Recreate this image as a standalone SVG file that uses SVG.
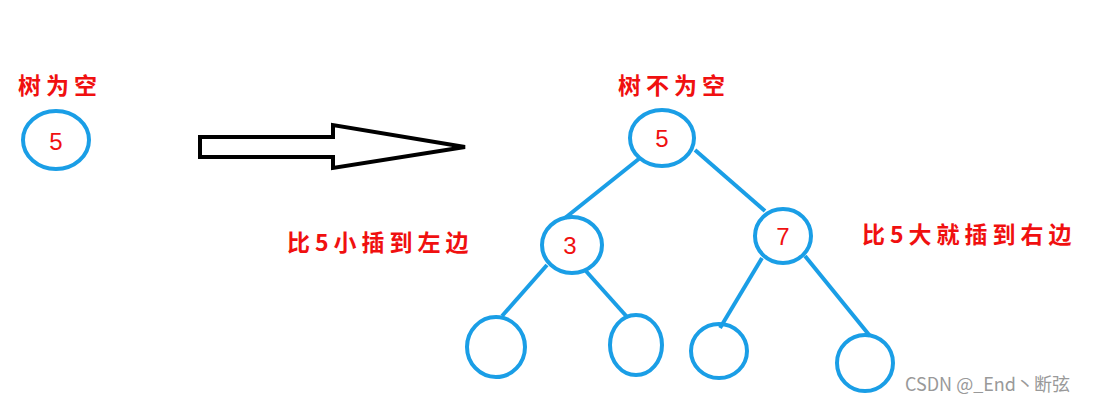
<svg xmlns="http://www.w3.org/2000/svg" width="1094" height="403" viewBox="0 0 1094 403">
<style>
.n{fill:none;stroke:#1a9ee6;stroke-width:4}
.t{fill:#f01010;font-family:"Noto Sans CJK SC",sans-serif;font-weight:bold;font-size:23px;letter-spacing:5px}
.d{fill:#f01010;font-family:"Liberation Sans",sans-serif;font-size:24px;text-anchor:middle}
.e{stroke:#1a9ee6;stroke-width:4}
</style>
<rect width="1094" height="403" fill="#fff"/>
<text class="t" x="18" y="94">树为空</text>
<text class="t" x="618" y="94">树不为空</text>
<text class="t" x="287" y="251">比5小插到左边</text>
<text class="t" x="862" y="243">比5大就插到右边</text>
<g id="n0"><ellipse class="n" cx="56" cy="140" rx="33" ry="29"/><text class="d" x="56" y="150">5</text></g>
<g id="arrow"><polygon points="200,137 333,137 333,125 465,147 333,168 333,157 200,157" fill="#fff" stroke="#000" stroke-width="4"/></g>
<g id="connectors">
<line class="e" x1="640" y1="158" x2="565" y2="218"/>
<line class="e" x1="695" y1="150" x2="765" y2="211"/>
<line class="e" x1="547" y1="265" x2="502" y2="316"/>
<line class="e" x1="585" y1="270" x2="628" y2="318"/>
<line class="e" x1="762" y1="258" x2="720" y2="328"/>
<line class="e" x1="805" y1="256" x2="870" y2="336"/>
</g>
<g id="n5"><ellipse class="n" cx="662" cy="138" rx="32" ry="28" fill="#fff"/><text class="d" x="662" y="147">5</text></g>
<g id="n3"><ellipse class="n" cx="572" cy="245" rx="30" ry="28"/><text class="d" x="570" y="254">3</text></g>
<g id="n7"><ellipse class="n" cx="783" cy="236" rx="28" ry="27"/><text class="d" x="783" y="245">7</text></g>
<g id="b1"><ellipse class="n" cx="496" cy="347" rx="29" ry="30"/></g>
<g id="b2"><ellipse class="n" cx="636" cy="345" rx="26" ry="30"/></g>
<g id="b3"><ellipse class="n" cx="719" cy="351" rx="28" ry="27"/></g>
<g id="b4"><ellipse class="n" cx="865" cy="363" rx="28" ry="28"/></g>
<text x="905" y="391" fill="#999" font-family="Noto Sans CJK SC,sans-serif" font-size="18">CSDN @_End丶断弦</text>
</svg>
